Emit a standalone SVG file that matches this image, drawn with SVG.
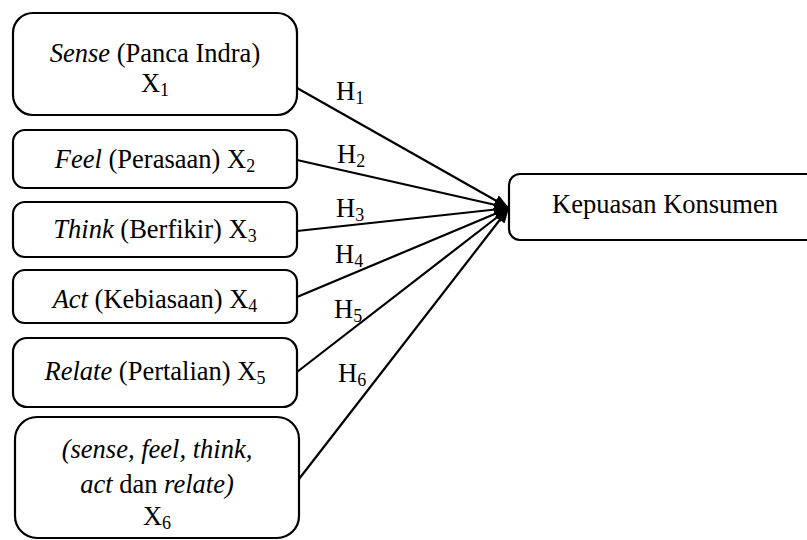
<svg xmlns="http://www.w3.org/2000/svg" width="807" height="540" viewBox="0 0 807 540">
<style>
.box{fill:#fff;stroke:#000;stroke-width:2.2}
.t{font-family:"Liberation Serif","Times New Roman",serif;font-size:26.5px;fill:#000}
.c{text-anchor:middle}
.i{font-style:italic}
.s{font-size:18px}
.ln{stroke:#000;stroke-width:2.2;fill:none;marker-end:url(#ah)}
</style>
<defs>
<marker id="ah" markerUnits="userSpaceOnUse" markerWidth="16" markerHeight="12" refX="15" refY="6" orient="auto">
<path d="M0,0 L15,6 L0,12 z" fill="#000"/>
</marker>
</defs>
<rect width="807" height="540" fill="#fff"/>
<g id="connectors">
<line class="ln" x1="297" y1="88" x2="509" y2="208"/>
<line class="ln" x1="297" y1="160" x2="509" y2="208"/>
<line class="ln" x1="297" y1="231" x2="509" y2="208"/>
<line class="ln" x1="297" y1="297" x2="509" y2="208"/>
<line class="ln" x1="297" y1="372" x2="509" y2="208"/>
<line class="ln" x1="299" y1="479" x2="509" y2="208"/>
<text class="t" x="336" y="100">H<tspan class="s" dy="4">1</tspan></text>
<text class="t" x="337" y="163">H<tspan class="s" dy="4">2</tspan></text>
<text class="t" x="336" y="217">H<tspan class="s" dy="4">3</tspan></text>
<text class="t" x="335" y="263">H<tspan class="s" dy="4">4</tspan></text>
<text class="t" x="334" y="318">H<tspan class="s" dy="4">5</tspan></text>
<text class="t" x="338" y="382">H<tspan class="s" dy="4">6</tspan></text>
</g>
<g id="x1">
<rect class="box" x="13" y="13" width="284" height="102" rx="20"/>
<text class="t c" x="155" y="62"><tspan class="i">Sense</tspan> (Panca Indra)</text>
<text class="t c" x="155" y="92">X<tspan class="s" dy="4">1</tspan></text>
</g>
<g id="x2">
<rect class="box" x="13" y="130" width="284" height="58" rx="12"/>
<text class="t c" x="155" y="168"><tspan class="i">Feel</tspan> (Perasaan) X<tspan class="s" dy="4">2</tspan></text>
</g>
<g id="x3">
<rect class="box" x="13" y="202" width="284" height="55" rx="12"/>
<text class="t c" x="155" y="238"><tspan class="i">Think</tspan> (Berfikir) X<tspan class="s" dy="4">3</tspan></text>
</g>
<g id="x4">
<rect class="box" x="13" y="270" width="284" height="53" rx="12"/>
<text class="t c" x="155" y="308"><tspan class="i">Act</tspan> (Kebiasaan) X<tspan class="s" dy="4">4</tspan></text>
</g>
<g id="x5">
<rect class="box" x="13" y="338" width="284" height="69" rx="14"/>
<text class="t c" x="155" y="380"><tspan class="i">Relate</tspan> (Pertalian) X<tspan class="s" dy="4">5</tspan></text>
</g>
<g id="x6">
<rect class="box" x="15" y="417" width="284" height="121" rx="22"/>
<text class="t c i" x="157" y="458">(sense, feel, think,</text>
<text class="t c" x="157" y="493"><tspan class="i">act</tspan> dan <tspan class="i">relate)</tspan></text>
<text class="t c" x="157" y="525">X<tspan class="s" dy="4">6</tspan></text>
</g>
<g id="y">
<rect class="box" x="509" y="174" width="310" height="66" rx="11"/>
<text class="t c" x="665" y="213">Kepuasan Konsumen</text>
</g>
</svg>
